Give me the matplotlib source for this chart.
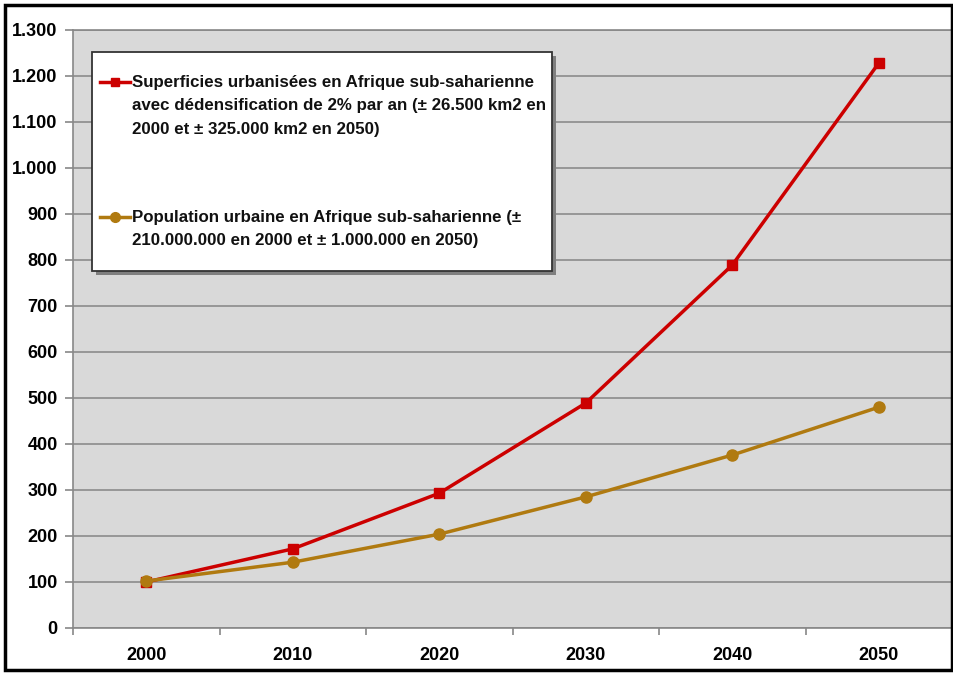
import matplotlib
matplotlib.use("Agg")
import matplotlib.pyplot as plt
from matplotlib.patches import Rectangle
from matplotlib.lines import Line2D
from matplotlib.ticker import FuncFormatter, FixedLocator

years = ['2000', '2010', '2020', '2030', '2040', '2050']
superficies = [100, 172, 293, 489, 789, 1228]
population = [102, 143, 204, 285, 376, 480]

label_sup = ('Superficies urbanisées en Afrique sub-saharienne\n'
             'avec dédensification de 2% par an (± 26.500 km2 en\n'
             '2000 et ± 325.000 km2 en 2050)')
label_pop = ('Population urbaine en Afrique sub-saharienne (±\n'
             '210.000.000 en 2000 et ± 1.000.000 en 2050)')

red = '#cc0000'
brown = '#b07a10'

plt.rcParams['font.family'] = ['Liberation Sans', 'DejaVu Sans']
plt.rcParams['font.weight'] = 'bold'

fig = plt.figure(figsize=(9.54, 6.73), dpi=100)
ax = fig.add_axes([73 / 954, 45 / 673, 879 / 954, 598 / 673])
ax.set_facecolor('#d9d9d9')

x = range(len(years))
ax.plot(x, superficies, color=red, lw=2.5, marker='s', ms=7, zorder=3)
ax.plot(x, population, color=brown, lw=2.5, marker='o', ms=8, zorder=3)

ax.set_xlim(-0.5, 5.5)
ax.set_ylim(0, 1300)
ax.set_yticks(range(0, 1301, 100))
ax.yaxis.set_major_formatter(FuncFormatter(lambda v, p: f'{int(v):,}'.replace(',', '.')))
ax.set_xticks(list(x))
ax.set_xticklabels(years)
ax.xaxis.set_minor_locator(FixedLocator([i + 0.5 for i in range(-1, 6)]))
ax.tick_params(axis='x', which='major', length=0, pad=14, labelsize=13)
ax.tick_params(axis='x', which='minor', length=5, color='#888888', width=1.2)
ax.tick_params(axis='y', length=6, color='#888888', width=1.2, pad=5, labelsize=13)
ax.grid(axis='y', color='#8c8c8c', lw=1.2)
ax.set_axisbelow(True)
for s in ax.spines.values():
    s.set_color('#888888')
    s.set_linewidth(1.2)

# legend box drawn by hand (handles sit on the first text line)
def px(xp, yp):
    return (xp - 73) / 879, (628 - yp) / 598

bx0, by0 = px(92, 271)
bx1, by1 = px(552, 52)
sx, sy = 4 / 879, 4 / 598
ax.add_patch(Rectangle((bx0 + sx, by0 - sy), bx1 - bx0, by1 - by0, transform=ax.transAxes,
                       facecolor='#7f7f7f', edgecolor='none', zorder=4))
ax.add_patch(Rectangle((bx0, by0), bx1 - bx0, by1 - by0, transform=ax.transAxes,
                       facecolor='white', edgecolor='#333333', lw=1.3, zorder=5))

for yl, col, mk, ms, lab in [(82, red, 's', 6, label_sup), (217, brown, 'o', 7, label_pop)]:
    hx0, hy = px(100, yl)
    hx1, _ = px(130, yl)
    ax.add_line(Line2D([hx0, hx1], [hy, hy], transform=ax.transAxes, color=col, lw=2.5, zorder=6))
    ax.add_line(Line2D([(hx0 + hx1) / 2], [hy], transform=ax.transAxes, color=col,
                       marker=mk, ms=ms, zorder=7))
    tx, ty = px(132, yl - 7)
    ax.text(tx, ty, lab, transform=ax.transAxes, ha='left', va='top', fontsize=12.2,
            linespacing=1.7, color='#111111', zorder=7)

fig.patches.append(Rectangle((5 / 954, 3 / 673), 947 / 954, 665 / 673, transform=fig.transFigure,
                             fill=False, edgecolor='black', lw=2.5))

fig.savefig('out.png', dpi=100)
